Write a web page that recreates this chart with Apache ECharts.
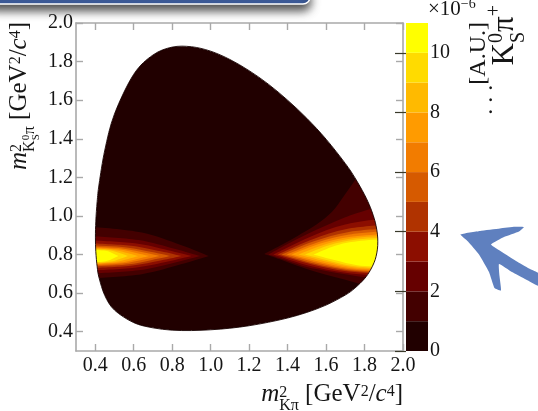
<!DOCTYPE html>
<html>
<head>
<meta charset="utf-8">
<script src="https://cdn.jsdelivr.net/npm/echarts@6/dist/echarts.min.js"></script>
<style>
  html, body { margin: 0; padding: 0; background: #ffffff; }
  #chart { width: 538px; height: 411px; }
</style>
</head>
<body>
<div id="chart"></div>
<script>
// ---- axis ranges and tick values ----
const xRange = [0.3, 2.0];
const yRange = [0.3, 2.0];
const xTickValues = [0.4, 0.6, 0.8, 1.0, 1.2, 1.4, 1.6, 1.8, 2.0];
const yTickValues = [0.4, 0.6, 0.8, 1.0, 1.2, 1.4, 1.6, 1.8, 2.0];

// ---- colour scale (x 10^-6, arbitrary units) ----
const zBandEdges = [0, 1, 2, 3, 4, 5, 6, 7, 8, 9, 10, 11];
const zTickValues = [0, 2, 4, 6, 8, 10];
const bandColors = ['#210000', '#430000', '#660000', '#8c0e00', '#b03300', '#d65a00',
                    '#f27c00', '#ff9b00', '#ffba00', '#ffdb00', '#ffff00'];

// ---- Dalitz-plot boundary [m2(K pi), m2(KS pi)], clockwise ----
const dalitzBoundary = [
  [0.401, 0.890], [0.403, 0.973], [0.410, 1.075], [0.420, 1.165], [0.450, 1.342],
  [0.500, 1.528], [0.600, 1.734], [0.700, 1.834], [0.800, 1.875], [0.900, 1.877],
  [1.000, 1.854], [1.100, 1.811], [1.200, 1.753], [1.300, 1.683], [1.400, 1.600],
  [1.500, 1.506], [1.600, 1.398], [1.700, 1.272], [1.750, 1.198], [1.800, 1.110],
  [1.830, 1.045], [1.850, 0.988], [1.860, 0.949], [1.867, 0.906], [1.869, 0.866],
  [1.867, 0.828], [1.860, 0.790], [1.850, 0.759], [1.830, 0.718], [1.800, 0.675],
  [1.750, 0.626], [1.700, 0.590], [1.600, 0.538], [1.500, 0.500], [1.400, 0.471],
  [1.300, 0.449], [1.200, 0.431], [1.100, 0.418], [1.000, 0.410], [0.900, 0.406],
  [0.800, 0.408], [0.700, 0.420], [0.600, 0.447], [0.500, 0.512], [0.450, 0.587],
  [0.420, 0.679], [0.410, 0.737], [0.403, 0.815]
];

// ---- K*(892) lobe contours, levels 1..10 (upper edge, tip, lower edge) ----
const leftLobeContours = [
  [[0.37, 0.945], [0.642, 0.914], [0.845, 0.849], [0.990, 0.792], [0.845, 0.749], [0.642, 0.698], [0.37, 0.675]],
  [[0.37, 0.896], [0.624, 0.875], [0.811, 0.830], [0.945, 0.792], [0.811, 0.758], [0.624, 0.718], [0.37, 0.700]],
  [[0.37, 0.874], [0.606, 0.858], [0.778, 0.822], [0.900, 0.792], [0.778, 0.764], [0.606, 0.732], [0.37, 0.717]],
  [[0.37, 0.859], [0.586, 0.846], [0.740, 0.817], [0.850, 0.792], [0.740, 0.769], [0.586, 0.742], [0.37, 0.729]],
  [[0.37, 0.848], [0.562, 0.837], [0.695, 0.813], [0.790, 0.792], [0.695, 0.772], [0.562, 0.748], [0.37, 0.737]],
  [[0.37, 0.841], [0.540, 0.831], [0.654, 0.810], [0.735, 0.792], [0.654, 0.774], [0.540, 0.753], [0.37, 0.743]],
  [[0.37, 0.836], [0.518, 0.827], [0.613, 0.808], [0.680, 0.792], [0.613, 0.776], [0.518, 0.757], [0.37, 0.748]],
  [[0.37, 0.832], [0.496, 0.824], [0.571, 0.807], [0.625, 0.792], [0.571, 0.777], [0.496, 0.760], [0.37, 0.752]],
  [[0.37, 0.829], [0.474, 0.822], [0.530, 0.806], [0.570, 0.792], [0.530, 0.778], [0.474, 0.762], [0.37, 0.755]],
  [[0.37, 0.826], [0.454, 0.819], [0.4925, 0.805], [0.520, 0.792], [0.4925, 0.779], [0.454, 0.765], [0.37, 0.758]]
];
const rightLobeContours = [
  [[1.82, 1.290], [1.75, 1.185], [1.69, 1.100], [1.63, 1.020], [1.55, 0.955], [1.45, 0.895], [1.36, 0.845],
   [1.279, 0.803],
   [1.36, 0.775], [1.45, 0.742], [1.55, 0.710], [1.65, 0.682], [1.75, 0.655], [1.85, 0.628], [1.95, 0.610]],
  [[1.95, 1.070], [1.80, 1.027], [1.70, 0.993], [1.60, 0.950], [1.50, 0.905], [1.40, 0.855],
   [1.300, 0.800],
   [1.40, 0.768], [1.50, 0.735], [1.60, 0.715], [1.70, 0.698], [1.80, 0.683], [1.95, 0.670]],
  [[1.92, 0.990], [1.700, 0.955], [1.513, 0.890], [1.326, 0.800], [1.513, 0.742], [1.700, 0.706], [1.92, 0.687]],
  [[1.92, 0.955], [1.707, 0.932], [1.528, 0.878], [1.349, 0.800], [1.528, 0.748], [1.707, 0.713], [1.92, 0.697]],
  [[1.92, 0.936], [1.713, 0.916], [1.541, 0.870], [1.369, 0.800], [1.541, 0.752], [1.713, 0.719], [1.92, 0.704]],
  [[1.92, 0.922], [1.721, 0.904], [1.558, 0.864], [1.395, 0.800], [1.558, 0.756], [1.721, 0.724], [1.92, 0.710]],
  [[1.92, 0.908], [1.728, 0.892], [1.575, 0.858], [1.421, 0.800], [1.575, 0.760], [1.728, 0.729], [1.92, 0.717]],
  [[1.92, 0.898], [1.739, 0.884], [1.597, 0.853], [1.456, 0.800], [1.597, 0.764], [1.739, 0.734], [1.92, 0.722]],
  [[1.92, 0.889], [1.749, 0.876], [1.620, 0.849], [1.490, 0.800], [1.620, 0.767], [1.749, 0.739], [1.92, 0.728]],
  [[1.92, 0.880], [1.762, 0.869], [1.648, 0.846], [1.534, 0.800], [1.648, 0.770], [1.762, 0.745], [1.92, 0.735]]
];

// ---------------------------------------------------------------------------
const serifFamily = '"Liberation Serif", "Times New Roman", serif';
const frameColor = '#a9a9a9';
const textColor = '#161616';

const contourItems = [];
leftLobeContours.forEach((pts, k) => contourItems.push({ level: k + 1, pts }));
rightLobeContours.forEach((pts, k) => contourItems.push({ level: k + 1, pts }));

function fmt(p) { return p[0].toFixed(2) + ',' + p[1].toFixed(2); }

// open Catmull-Rom run through the pixel points p (pen already at p[0])
function crSegments(p) {
  let d = '';
  for (let i = 0; i < p.length - 1; i++) {
    const p0 = p[Math.max(i - 1, 0)], p1 = p[i], p2 = p[i + 1], p3 = p[Math.min(i + 2, p.length - 1)];
    const c1 = [p1[0] + (p2[0] - p0[0]) / 6, p1[1] + (p2[1] - p0[1]) / 6];
    const c2 = [p2[0] - (p3[0] - p1[0]) / 6, p2[1] - (p3[1] - p1[1]) / 6];
    d += ' C' + fmt(c1) + ' ' + fmt(c2) + ' ' + fmt(p2);
  }
  return d;
}
// closed Catmull-Rom outline
function crClosed(p) {
  const n = p.length;
  let d = 'M' + fmt(p[0]);
  for (let i = 0; i < n; i++) {
    const p0 = p[(i - 1 + n) % n], p1 = p[i], p2 = p[(i + 1) % n], p3 = p[(i + 2) % n];
    const c1 = [p1[0] + (p2[0] - p0[0]) / 6, p1[1] + (p2[1] - p0[1]) / 6];
    const c2 = [p2[0] - (p3[0] - p1[0]) / 6, p2[1] - (p3[1] - p1[1]) / 6];
    d += ' C' + fmt(c1) + ' ' + fmt(c2) + ' ' + fmt(p2);
  }
  return d + ' Z';
}
// contour: smooth upper edge into a pointed tip, smooth lower edge, straight closing side
function contourPath(pix) {
  const mid = (pix.length - 1) / 2;
  return 'M' + fmt(pix[0]) + crSegments(pix.slice(0, mid + 1)) + crSegments(pix.slice(mid)) + ' Z';
}

// ---- mathematical titles laid out from measured text runs ----
const mctx = document.createElement('canvas').getContext('2d');
function textWidth(t, size, italic) {
  mctx.font = (italic ? 'italic ' : '') + size + 'px ' + serifFamily;
  return mctx.measureText(t).width;
}
function layoutRuns(runs, baseDy) {
  let x = 0;
  const items = [];
  runs.forEach(r => {
    if (r.stack) {
      let w = 0;
      r.stack.forEach(s => {
        const sub = layoutRuns(s.runs, baseDy + s.dy);
        sub.items.forEach(it => items.push(Object.assign({}, it, { x: it.x + x })));
        w = Math.max(w, sub.width);
      });
      x += w;
    } else {
      items.push({ t: r.t, s: r.s, i: !!r.i, x, dy: baseDy + (r.dy || 0) });
      x += textWidth(r.t, r.s, r.i);
    }
  });
  return { items, width: x };
}
function textEl(it, x) {
  return {
    type: 'text', x, y: it.dy - 0.3375 * it.s,
    style: {
      text: it.t, fontSize: it.s, fontFamily: serifFamily, fontStyle: it.i ? 'italic' : 'normal',
      fill: textColor,
      textAlign: 'left', textVerticalAlign: 'middle', align: 'left', verticalAlign: 'middle'
    }
  };
}
// text ending at (x, y) on its baseline; rotation PI/2 makes it read upward
function titleGroup(runs, x, y, rotation) {
  const lay = layoutRuns(runs, 0);
  return {
    type: 'group', x, y, rotation: rotation || 0, silent: true, z: 30,
    children: lay.items.map(it => textEl(it, it.x - lay.width))
  };
}
// text starting at (x, y) on its baseline
function leftGroup(runs, x, y) {
  const lay = layoutRuns(runs, 0);
  return { type: 'group', x, y, silent: true, z: 30, children: lay.items.map(it => textEl(it, it.x)) };
}

const xTitleRuns = [
  { t: 'm', s: 25, i: true },
  { stack: [{ dy: -5, runs: [{ t: '2', s: 16 }] }, { dy: 8, runs: [{ t: 'Kπ', s: 16 }] }] },
  { t: ' [GeV', s: 25 }, { t: '2', s: 16, dy: -6 }, { t: '/', s: 25 },
  { t: 'c', s: 25, i: true }, { t: '4', s: 16, dy: -6 }, { t: ']', s: 25 }
];
const yTitleRuns = [
  { t: 'm', s: 25, i: true },
  { stack: [
    { dy: -5, runs: [{ t: '2', s: 16 }] },
    { dy: 8, runs: [
      { t: 'K', s: 16 },
      { stack: [{ dy: -6, runs: [{ t: '0', s: 11 }] }, { dy: 4, runs: [{ t: 'S', s: 11 }] }] },
      { t: 'π', s: 16 }
    ] }
  ] },
  { t: ' [GeV', s: 25 }, { t: '2', s: 16, dy: -6 }, { t: '/', s: 25 },
  { t: 'c', s: 25, i: true }, { t: '4', s: 16, dy: -6 }, { t: ']', s: 25 }
];
const zExponentRuns = [{ t: '×10', s: 21 }, { t: '−6', s: 14, dy: -8 }];
const zTitleRuns1 = [{ t: '. . .', s: 24, dy: 7 }, { t: '[A.U.]', s: 24 }];
const zTitleRuns2 = [
  { t: 'K', s: 31 },
  { stack: [{ dy: -12, runs: [{ t: '0', s: 20 }] }, { dy: 10, runs: [{ t: 'S', s: 20 }] }] },
  { t: 'π', s: 31 }, { t: '+', s: 20, dy: -14 }
];

// hand-drawn pointer on the right of the colour bar
const arrowOutline = [
  [460.5, 234.5], [480, 231], [500, 228.5], [515, 226.8], [524, 227],
  [519, 231.5], [504, 237], [491, 244.5],
  [502, 252], [516, 261], [529, 268.5], [539, 273.5],
  [539, 286], [526, 279.5], [512, 272], [499, 264],
  [499.5, 276], [501, 290.5],
  [494.5, 288], [489, 272], [479, 254.5], [468, 241.5]
];

const chart = echarts.init(document.getElementById('chart'), null, { renderer: 'canvas' });

const axisCommon = {
  type: 'value', z: 10, splitLine: { show: false },
  axisLine: { show: true, onZero: false, lineStyle: { color: frameColor, width: 1.6 } }
};
const tickLabelStyle = { fontFamily: serifFamily, fontSize: 20, color: textColor };

chart.setOption({
  animation: false,
  backgroundColor: '#ffffff',
  grid: [
    { left: 76, top: 23, width: 327, height: 328, outerBoundsMode: 'none', containLabel: false },
    { left: 406, top: 23, width: 22, height: 328, outerBoundsMode: 'none', containLabel: false }
  ],
  xAxis: [
    Object.assign({}, axisCommon, {
      gridIndex: 0, position: 'bottom', min: xRange[0], max: xRange[1],
      axisTick: { show: true, inside: true, length: 7, customValues: xTickValues, lineStyle: { color: frameColor, width: 1.4 } },
      axisLabel: Object.assign({ show: true, customValues: xTickValues, formatter: v => v.toFixed(1), margin: 5 }, tickLabelStyle)
    }),
    Object.assign({}, axisCommon, {
      gridIndex: 0, position: 'top', min: xRange[0], max: xRange[1],
      axisTick: { show: true, inside: true, length: 7, customValues: xTickValues, lineStyle: { color: frameColor, width: 1.4 } },
      axisLabel: { show: false }
    }),
    { gridIndex: 1, type: 'value', min: 0, max: 1, show: false }
  ],
  yAxis: [
    Object.assign({}, axisCommon, {
      gridIndex: 0, position: 'left', min: yRange[0], max: yRange[1],
      axisTick: { show: true, inside: true, length: 7, customValues: yTickValues, lineStyle: { color: frameColor, width: 1.4 } },
      axisLabel: Object.assign({ show: true, customValues: yTickValues, formatter: v => v.toFixed(1), margin: 3 }, tickLabelStyle)
    }),
    Object.assign({}, axisCommon, {
      gridIndex: 0, position: 'right', min: yRange[0], max: yRange[1],
      axisTick: { show: true, inside: true, length: 7, customValues: yTickValues, lineStyle: { color: frameColor, width: 1.4 } },
      axisLabel: { show: false }
    }),
    {
      gridIndex: 1, type: 'value', position: 'right', min: zBandEdges[0], max: zBandEdges[zBandEdges.length - 1], z: 10,
      splitLine: { show: false }, axisLine: { show: false },
      axisTick: { show: true, inside: true, length: 11, customValues: zTickValues, lineStyle: { color: '#3a3a2a', width: 1.2 } },
      axisLabel: Object.assign({ show: true, customValues: zTickValues, margin: 2 }, tickLabelStyle)
    }
  ],
  series: [
    { // kinematically allowed region
      type: 'custom', name: 'phase space', xAxisIndex: 0, yAxisIndex: 0, z: 2, silent: true,
      data: [[0]],
      renderItem: (params, api) => ({
        type: 'path',
        shape: { pathData: crClosed(dalitzBoundary.map(p => api.coord(p))) },
        style: { fill: bandColors[0] }
      })
    },
    { // filled density contours
      type: 'custom', name: 'density', xAxisIndex: 0, yAxisIndex: 0, z: 2, silent: true,
      data: contourItems.map(c => [c.level]),
      renderItem: (params, api) => {
        const c = contourItems[params.dataIndex];
        return {
          type: 'path',
          shape: { pathData: contourPath(c.pts.map(p => api.coord(p))) },
          style: { fill: bandColors[c.level] }
        };
      }
    },
    { // blank out everything outside the boundary
      type: 'custom', name: 'outside', xAxisIndex: 0, yAxisIndex: 0, z: 2, silent: true,
      data: [[0]],
      renderItem: (params, api) => {
        const tl = api.coord([xRange[0], yRange[1]]);
        const br = api.coord([xRange[1], yRange[0]]);
        const rect = 'M' + fmt(tl) + ' L' + fmt([br[0], tl[1]]) + ' L' + fmt(br) + ' L' + fmt([tl[0], br[1]]) + ' Z ';
        const hole = crClosed(dalitzBoundary.slice().reverse().map(p => api.coord(p)));
        return { type: 'path', shape: { pathData: rect + hole }, style: { fill: '#ffffff' } };
      }
    },
    { // boundary edge
      type: 'custom', name: 'edge', xAxisIndex: 0, yAxisIndex: 0, z: 2, silent: true,
      data: [[0]],
      renderItem: (params, api) => ({
        type: 'path',
        shape: { pathData: crClosed(dalitzBoundary.map(p => api.coord(p))) },
        style: { fill: null, stroke: '#150000', lineWidth: 0.9 }
      })
    },
    { // colour bar
      type: 'custom', name: 'palette', xAxisIndex: 2, yAxisIndex: 2, z: 2, silent: true,
      data: bandColors.map((c, i) => [zBandEdges[i], zBandEdges[i + 1]]),
      renderItem: (params, api) => {
        const p0 = api.coord([0, api.value(0)]);
        const p1 = api.coord([1, api.value(1)]);
        return {
          type: 'rect',
          shape: { x: p0[0], y: p1[1], width: p1[0] - p0[0], height: p0[1] - p1[1] },
          style: { fill: bandColors[params.dataIndex] }
        };
      }
    }
  ],
  graphic: {
    elements: [
      { // slide header strip
        type: 'rect', z: 40, silent: true,
        shape: { x: -12, y: -14, width: 322, height: 18, r: 7 },
        style: { fill: '#3d5c9b', stroke: '#ffffff', lineWidth: 1.5,
                 shadowBlur: 10, shadowColor: 'rgba(0,0,0,0.7)', shadowOffsetY: 6 }
      },
      {
        type: 'polygon', z: 40, silent: true,
        shape: { points: arrowOutline, smooth: 0.12 },
        style: { fill: '#5f80bf' }
      },
      titleGroup(xTitleRuns, 403, 403, 0),
      titleGroup(yTitleRuns, 27.5, 22, Math.PI / 2),
      leftGroup(zExponentRuns, 428, 17),
      titleGroup(zTitleRuns1, 487, 22, Math.PI / 2),
      titleGroup(zTitleRuns2, 515, 5, Math.PI / 2)
    ]
  }
});
</script>
</body>
</html>
